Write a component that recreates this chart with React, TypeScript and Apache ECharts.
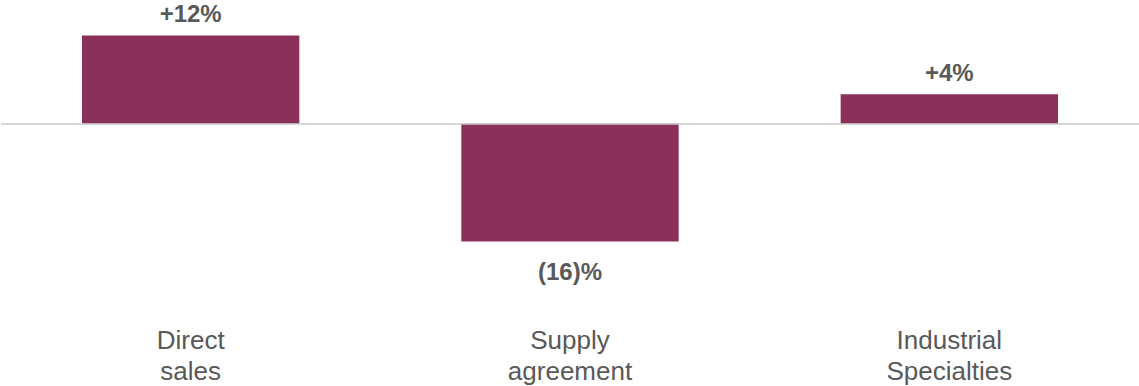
import React, { useEffect, useRef } from "react";
import * as echarts from "echarts";

const categories = ["Direct\nsales", "Supply\nagreement", "Industrial\nSpecialties"];
const values = [12, -16, 4];
const valueLabels = ["+12%", "(16)%", "+4%"];

export default function App() {
  const ref = useRef<HTMLDivElement>(null);
  useEffect(() => {
    document.body.style.margin = "0";
    const chart = echarts.init(ref.current!, null, { renderer: "svg" });
    chart.setOption({
      animation: false,
      grid: { left: 1, right: -3, top: 6, height: 266.5 },
      xAxis: {
        type: "category",
        data: categories,
        axisLine: { show: false, onZero: false },
        axisTick: { show: false },
        axisLabel: {
          margin: 53,
          fontFamily: "Liberation Sans, Arial, sans-serif",
          fontSize: 26,
          lineHeight: 31,
          color: "#595959",
        },
      },
      yAxis: {
        type: "value",
        min: -20,
        max: 16,
        show: false,
        splitLine: { show: false },
      },
      series: [
        {
          type: "bar",
          barWidth: "57.3%",
          data: values.map((v, i) => ({
            value: v,
            label: {
              show: true,
              position: v >= 0 ? "top" : "bottom",
              distance: v >= 0 ? 11 : 19,
              formatter: valueLabels[i],
            },
          })),
          itemStyle: { color: "#8B2F5B" },
          label: {
            fontFamily: "Liberation Sans, Arial, sans-serif",
            fontSize: 24,
            lineHeight: 22,
            fontWeight: "bold",
            color: "#595959",
          },
          markLine: {
            silent: true,
            symbol: "none",
            label: { show: false },
            lineStyle: { color: "#C8C8C8", width: 1.5, type: "solid" },
            data: [{ yAxis: 0 }],
          },
          z: 3,
        },
      ],
    });
    return () => chart.dispose();
  }, []);
  return <div ref={ref} style={{ width: 1139, height: 386 }} />;
}
